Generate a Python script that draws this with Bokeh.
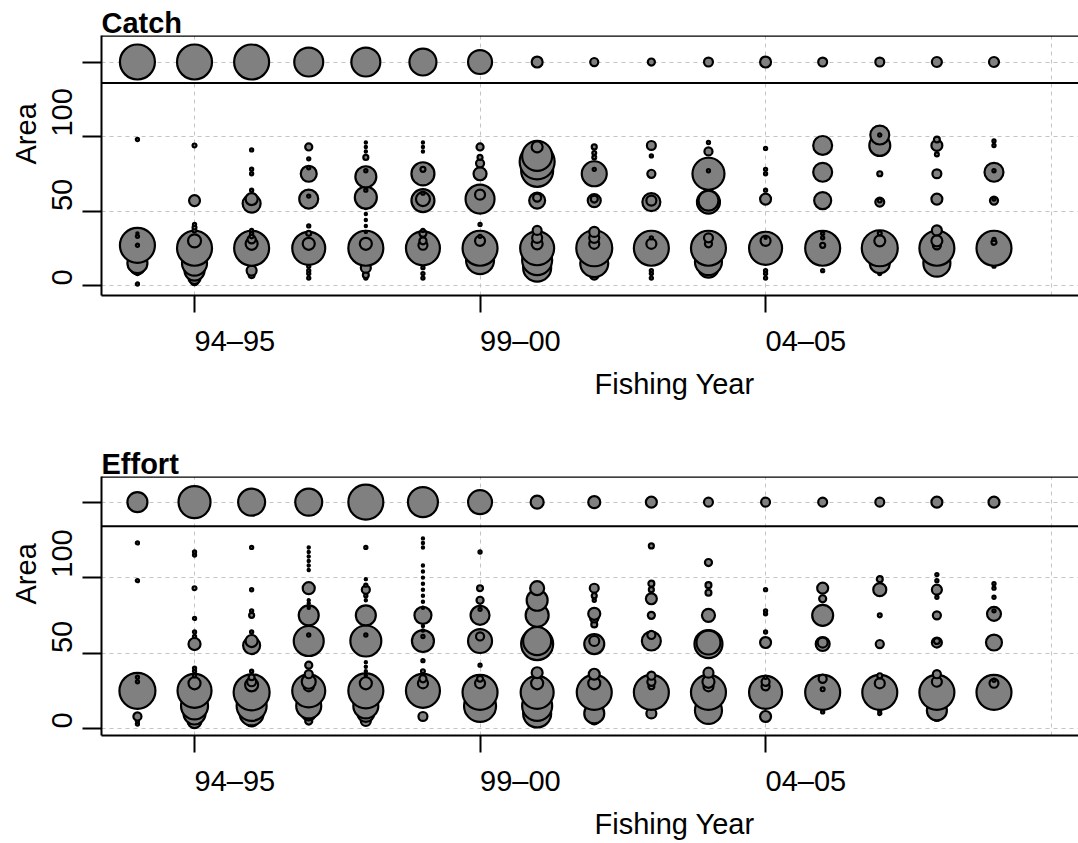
import math
from bokeh.plotting import figure
from bokeh.layouts import column
from bokeh.models import (ColumnDataSource, FixedTicker, Range1d, Span, LinearAxis, Title,
                          CustomLabelingPolicy)
from bokeh.embed import file_html
from bokeh.resources import INLINE

# ---------------- data ----------------
years = ["93–94", "94–95", "95–96", "96–97", "97–98", "98–99", "99–00", "00–01",
         "01–02", "02–03", "03–04", "04–05", "05–06", "06–07", "07–08", "08–09"]
x_tick_labels = ["94–95", "99–00", "04–05"]
other_area = 150  # "other" areas strip
y_tick_values = [0, 50, 100]

# Catch: statistical areas and relative catch (bubble area ~ value), one list per fishing year
catch_areas = [
    [1, 8, 12, 15, 27, 27, 33, 35, 98],
    [3, 5, 10, 15, 25, 30, 37, 39, 41, 57, 94],
    [7, 10, 25, 28, 31, 33, 35, 37, 55, 58, 64, 75, 78, 91],
    [5, 8, 10, 13, 25, 28, 35, 40, 58, 60, 75, 79, 85, 93],
    [5, 7, 12, 25, 28, 36, 40, 44, 48, 52, 59, 64, 73, 77, 86, 90, 93, 96],
    [5, 8, 12, 25, 27, 30, 35, 37, 57, 58, 62, 75, 78, 90, 93, 96],
    [17, 25, 30, 33, 41, 58, 61, 75, 82, 86, 93],
    [12, 17, 25, 28, 32, 37, 57, 59, 77, 83, 87, 93],
    [7, 15, 25, 28, 32, 36, 57, 58, 75, 78, 86, 89, 93],
    [5, 8, 10, 25, 28, 32, 56, 57, 75, 87, 94],
    [12, 16, 25, 28, 32, 56, 57, 75, 77, 90, 96],
    [5, 8, 10, 25, 30, 32, 58, 64, 75, 78, 92],
    [10, 25, 27, 32, 35, 57, 76, 90, 94],
    [8, 15, 25, 30, 35, 56, 57, 75, 94, 101, 101],
    [9, 15, 25, 27, 30, 37, 58, 75, 88, 94, 98],
    [13, 25, 29, 31, 57, 58, 76, 77, 94, 97],
]
catch_values = [
    [0.4, 0.4, 7.8, 16.0, 49.0, 0.4, 0.4, 0.2, 0.4],
    [2.6, 5.8, 16.0, 25.0, 49.0, 6.8, 0.6, 0.6, 0.4, 4.8, 0.6],
    [1.4, 4.0, 49.0, 5.8, 2.6, 0.6, 0.4, 0.4, 13.0, 5.8, 0.4, 0.4, 0.4, 0.4],
    [0.4, 0.4, 0.4, 0.4, 43.6, 5.8, 1.0, 0.4, 14.4, 0.4, 10.2, 0.4, 0.4, 2.0],
    [0.4, 1.4, 4.0, 49.0, 5.8, 0.2, 0.2, 0.2, 0.2, 0.2, 19.4, 0.4, 17.6, 0.4, 1.0, 0.2, 0.2, 0.2],
    [0.4, 0.4, 0.4, 46.2, 3.2, 2.0, 2.0, 0.4, 21.2, 7.8, 0.4, 21.2, 1.0, 0.2, 0.2, 0.2],
    [31.4, 49.0, 4.0, 0.4, 0.4, 33.6, 4.0, 6.8, 2.6, 1.0, 2.0],
    [31.4, 36.0, 46.2, 4.8, 4.0, 3.2, 10.2, 2.6, 41.0, 49.0, 36.0, 4.8],
    [3.2, 31.4, 51.8, 4.0, 4.0, 4.0, 6.8, 2.0, 25.0, 0.4, 0.6, 0.6, 1.0],
    [0.4, 0.4, 0.4, 49.0, 4.0, 0.4, 13.0, 4.0, 2.6, 0.4, 3.2],
    [16.0, 29.2, 49.0, 2.0, 3.2, 21.2, 16.0, 41.0, 0.4, 2.6, 0.4],
    [0.4, 0.4, 0.4, 43.6, 4.0, 0.2, 4.8, 0.4, 0.4, 0.4, 0.4],
    [0.4, 49.0, 1.0, 0.4, 0.4, 11.6, 14.4, 0.4, 14.4],
    [0.4, 16.0, 51.8, 4.8, 0.6, 3.2, 0.6, 1.0, 17.6, 14.4, 0.4],
    [0.4, 29.2, 49.0, 2.6, 4.8, 4.0, 4.8, 3.2, 0.6, 4.8, 1.4],
    [0.4, 49.0, 1.0, 0.4, 2.6, 0.4, 14.4, 0.4, 0.4, 0.4],
]
catch_other = [49.0, 49.0, 49.0, 33.6, 33.6, 29.2, 23.0, 4.8, 2.6, 2.0, 3.2, 4.8, 3.2, 3.2, 4.0, 4.0]

# Effort
effort_areas = [
    [3, 5, 8, 25, 31, 34, 98, 123],
    [3, 5, 10, 15, 25, 30, 35, 38, 40, 56, 61, 64, 73, 93, 115, 117],
    [6, 10, 15, 24, 29, 31, 34, 38, 55, 58, 64, 75, 78, 92, 120],
    [5, 10, 15, 25, 28, 31, 36, 42, 58, 62, 75, 80, 83, 85, 93, 105, 108, 111, 114, 117, 120],
    [5, 10, 15, 25, 30, 35, 38, 41, 44, 58, 62, 75, 85, 88, 92, 95, 99, 120],
    [8, 25, 30, 33, 38, 45, 58, 61, 65, 68, 75, 80, 84, 88, 92, 96, 100, 104, 108, 120, 123, 126],
    [15, 24, 30, 33, 42, 58, 61, 75, 79, 85, 93, 117],
    [10, 15, 24, 30, 37, 56, 58, 75, 85, 93],
    [6, 10, 24, 30, 36, 56, 58, 69, 73, 76, 85, 88, 93],
    [10, 24, 28, 31, 35, 58, 62, 75, 86, 92, 96, 121],
    [12, 24, 28, 31, 37, 56, 57, 75, 90, 95, 110],
    [8, 24, 28, 31, 34, 57, 64, 76, 78, 92],
    [11, 24, 26, 33, 56, 57, 75, 86, 93],
    [10, 12, 24, 30, 35, 56, 75, 92, 99],
    [8, 12, 24, 31, 36, 57, 58, 75, 87, 92, 98, 102],
    [24, 30, 32, 57, 76, 78, 87, 93, 96],
]
effort_values = [
    [0.4, 0.4, 2.6, 51.8, 0.4, 0.4, 0.4, 0.4],
    [2.6, 7.8, 19.4, 29.2, 46.2, 5.8, 0.4, 0.4, 0.4, 5.8, 0.4, 0.4, 0.4, 0.6, 0.4, 0.4],
    [7.8, 23.0, 36.0, 51.8, 6.8, 3.2, 1.4, 0.4, 11.6, 5.8, 0.4, 1.0, 0.4, 0.4, 0.4],
    [2.0, 7.8, 25.0, 43.6, 4.0, 7.8, 2.6, 2.0, 36.0, 0.4, 16.0, 0.2, 0.2, 0.2, 5.8, 0.2, 0.2, 0.2, 0.2, 0.2, 0.2],
    [4.0, 11.6, 25.0, 49.0, 5.8, 0.2, 0.2, 0.2, 0.2, 38.4, 0.4, 16.0, 0.2, 0.4, 2.6, 0.4, 0.2, 0.4],
    [3.2, 46.2, 4.0, 2.0, 0.6, 0.4, 19.4, 0.4, 0.2, 0.2, 11.6, 0.2, 0.2, 0.2, 0.2, 0.2, 0.2, 0.2, 0.2, 0.2, 0.2, 0.2],
    [41.0, 49.0, 4.0, 1.4, 0.4, 23.0, 2.6, 14.4, 0.4, 2.0, 1.4, 0.4],
    [31.4, 36.0, 43.6, 5.8, 4.8, 41.0, 31.4, 21.2, 17.6, 7.8],
    [4.0, 16.0, 49.0, 5.8, 4.8, 16.0, 4.0, 1.4, 2.6, 5.8, 0.4, 1.0, 3.2],
    [4.0, 49.0, 1.4, 2.6, 2.6, 14.4, 2.6, 2.0, 4.8, 1.0, 1.4, 1.0],
    [29.2, 49.0, 4.0, 5.8, 4.0, 31.4, 23.0, 6.8, 1.4, 1.4, 2.0],
    [4.8, 43.6, 2.6, 2.6, 0.4, 4.8, 0.4, 0.4, 0.4, 0.4],
    [0.4, 49.0, 0.6, 2.6, 7.8, 4.0, 17.6, 2.0, 4.8],
    [0.4, 0.4, 49.0, 4.0, 1.0, 2.6, 0.6, 6.8, 1.4],
    [3.2, 16.0, 49.0, 4.0, 2.6, 4.0, 1.4, 2.6, 0.4, 4.0, 0.4, 0.4],
    [49.0, 3.2, 0.4, 10.2, 7.8, 0.4, 0.4, 0.4, 0.4],
]
effort_other = [16.0, 41.0, 29.2, 29.2, 49.0, 36.0, 23.0, 6.8, 5.8, 4.8, 3.2, 3.2, 3.2, 3.2, 4.8, 4.8]

# ---------------- styling ----------------
FONT = "Liberation Sans"
FS = "29px"
DIGIT_W = 29 * 0.556      # approx. advance width of one character of a tick label
BUBBLE_SCALE = 5.0        # diameter (px) = BUBBLE_SCALE * sqrt(value)
FRAME_W = 977
LEFT = 101
X_LO, X_HI = -0.629, 16.48

NO_LABELS = CustomLabelingPolicy(code="""
for (const i of indices) { indices.unset(i) }
return indices
""")


def style_axis(ax, tick_out, standoff, show_line=True, show_ticks=True, labels=True):
    ax.axis_line_width = 2
    ax.axis_line_color = "black" if show_line else None
    ax.major_tick_line_width = 2
    ax.major_tick_line_color = "black" if show_ticks else None
    ax.major_tick_out = tick_out
    ax.major_tick_in = 0
    ax.minor_tick_line_color = None
    ax.major_label_text_font = FONT
    ax.major_label_text_color = "black"
    ax.major_label_standoff = standoff
    if labels:
        ax.major_label_text_font_size = FS
    else:
        ax.major_label_text_font_size = "0px"
        ax.major_label_policy = NO_LABELS


def make_panel(title, areas, values, other, frame_h, bottom_border, y_lo, y_hi, sep):
    p = figure(frame_width=FRAME_W, frame_height=frame_h,
               x_range=Range1d(X_LO, X_HI), y_range=Range1d(y_lo, y_hi),
               output_backend="svg", toolbar_location=None,
               min_border_left=LEFT, min_border_right=0, min_border_top=35,
               min_border_bottom=bottom_border)
    p.outline_line_color = None
    p.background_fill_color = "white"
    p.border_fill_color = "white"

    ppx = FRAME_W / (X_HI - X_LO)          # px per year
    ppy = frame_h / (y_hi - y_lo)          # px per area unit

    xs, ys, ss = [], [], []
    for i, (alist, vlist) in enumerate(zip(areas, values)):
        pts = sorted(zip(alist, vlist), key=lambda t: (t[0], -t[1]))
        for a, v in pts:
            xs.append(i)
            ys.append(a)
            ss.append(BUBBLE_SCALE * math.sqrt(v))
    for i, v in enumerate(other):
        xs.append(i)
        ys.append(other_area)
        ss.append(BUBBLE_SCALE * math.sqrt(v))
    src = ColumnDataSource(dict(x=xs, y=ys, size=ss))

    # grid
    p.xgrid.ticker = FixedTicker(ticks=list(range(years.index(x_tick_labels[0]), len(years) + 1, 5)))
    p.ygrid.ticker = FixedTicker(ticks=y_tick_values + [other_area])
    for g in (p.xgrid, p.ygrid):
        g.grid_line_color = "#c4c4c4"
        g.grid_line_dash = "4 4"
        g.grid_line_width = 1

    # separator and top border
    p.add_layout(Span(location=sep, dimension="width", line_color="black", line_width=2))
    p.add_layout(Span(location=y_hi, dimension="width", line_color="black", line_width=2.5))

    p.scatter(x="x", y="y", size="size", source=src, marker="circle",
              fill_color="#808080", line_color="black", line_width=2.2)

    # x axis: tick marks (no labels), then labels starting at the tick
    xt = [years.index(l) for l in x_tick_labels]
    xa = p.xaxis[0]
    xa.ticker = FixedTicker(ticks=xt)
    style_axis(xa, 17, 0, labels=False)
    xlt = [t + len(l) * DIGIT_W / 2 / ppx for t, l in zip(xt, x_tick_labels)]
    xlab = LinearAxis(ticker=FixedTicker(ticks=xlt),
                      major_label_overrides={t: l for t, l in zip(xlt, x_tick_labels)})
    style_axis(xlab, 0, 12, show_line=False, show_ticks=False)
    p.add_layout(xlab, "below")

    # y axis
    ya = p.yaxis[0]
    ya.ticker = FixedTicker(ticks=y_tick_values + [other_area])
    style_axis(ya, 19, 0, labels=False)
    ylabels = [str(v) for v in y_tick_values]
    ylt = [v + len(l) * DIGIT_W / 2 / ppy for v, l in zip(y_tick_values, ylabels)]
    ylab = LinearAxis(ticker=FixedTicker(ticks=ylt),
                      major_label_overrides={t: l for t, l in zip(ylt, ylabels)},
                      major_label_orientation="parallel")
    style_axis(ylab, 0, 10, show_line=False, show_ticks=False)
    p.add_layout(ylab, "left")

    # titles
    p.title.text = title
    p.title.align = "left"
    p.title.offset = 0
    p.title.standoff = -6
    p.title.text_font = FONT
    p.title.text_font_size = FS
    p.title.text_font_style = "bold"
    p.title.text_color = "black"

    p.add_layout(Title(text="Area", align="left", offset=131, standoff=15,
                       text_font=FONT, text_font_size=FS, text_font_style="normal",
                       text_color="black"), "left")
    p.add_layout(Title(text="Fishing Year", align="left", offset=493, standoff=12,
                       text_font=FONT, text_font_size=FS, text_font_style="normal",
                       text_color="black"), "below")
    return p


p1 = make_panel("Catch", catch_areas, catch_values, catch_other, 260, 146, -6.7, 167.8, 136)
p2 = make_panel("Effort", effort_areas, effort_values, effort_other, 259, 108, -4.6, 167.0, 134)

layout = column(p1, p2, spacing=0)
open("out.html", "w").write(file_html(layout, INLINE))
